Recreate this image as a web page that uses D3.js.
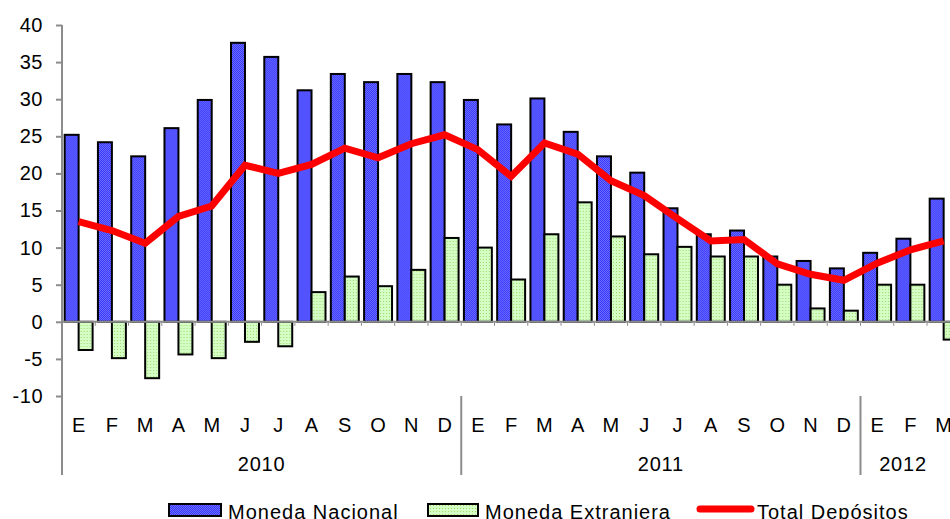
<!DOCTYPE html>
<html>
<head>
<meta charset="utf-8">
<script src="https://cdn.jsdelivr.net/npm/d3@7"></script>
<style>
  html, body { margin: 0; padding: 0; background: #fff; overflow: hidden; }
  text { font-family: "Liberation Sans", Arial, sans-serif; fill: #000; }
</style>
</head>
<body>
<svg class="chart" width="950" height="519"></svg>
<script>
// data
var years = ["2010", "2011", "2012"];
var months = ["E","F","M","A","M","J","J","A","S","O","N","D",
              "E","F","M","A","M","J","J","A","S","O","N","D",
              "E","F","M"];
var monedaNacional = [25.2, 24.2, 22.3, 26.1, 29.9, 37.6, 35.7, 31.2, 33.4, 32.3, 33.4, 32.3,
                      29.9, 26.6, 30.1, 25.6, 22.3, 20.1, 15.3, 11.8, 12.3, 8.8, 8.2, 7.2,
                      9.3, 11.2, 16.6];
var monedaExtranjera = [-3.8, -4.9, -7.6, -4.4, -4.9, -2.7, -3.3, 4.0, 6.1, 4.8, 7.0, 11.3,
                        10.0, 5.7, 11.8, 16.1, 11.5, 9.1, 10.1, 8.8, 8.8, 5.0, 1.8, 1.5,
                        5.0, 5.0, -2.4];
var totalDepositos = [13.5, 12.3, 10.6, 14.2, 15.6, 21.1, 20.0, 21.2, 23.4, 22.1, 24.0, 25.2,
                      23.2, 19.6, 24.1, 22.6, 19.0, 17.0, 13.9, 10.9, 11.1, 7.8, 6.4, 5.6,
                      7.9, 9.7, 10.9];
var yearLengths = [12, 12, 3];
var yTicks = [-10, -5, 0, 5, 10, 15, 20, 25, 30, 35, 40];

var svg = d3.select(".chart");
var plotLeft = 62, plotTop = 25, plotBottom = 396;
var step = 33.27;

var keys = months.map(function(m, i) { return i; });

var x = d3.scaleBand()
  .domain(keys)
  .range([plotLeft, plotLeft + step * keys.length])
  .paddingInner(0.16)
  .paddingOuter(0.08);

var x1 = d3.scaleBand()
  .domain(["mn", "me"])
  .range([0, x.bandwidth()]);

var y = d3.scaleLinear()
  .domain([-10, 40])
  .range([plotBottom, plotTop]);

// fill patterns
var defs = svg.append("defs");
var pb = defs.append("pattern").attr("id", "pBlue")
  .attr("width", 2).attr("height", 2).attr("patternUnits", "userSpaceOnUse");
pb.append("rect").attr("width", 2).attr("height", 2).attr("fill", "#3535ff");
pb.append("rect").attr("width", 1).attr("height", 1).attr("fill", "#7070ff");
pb.append("rect").attr("x", 1).attr("y", 1).attr("width", 1).attr("height", 1).attr("fill", "#7070ff");

var pg = defs.append("pattern").attr("id", "pGreen")
  .attr("width", 3).attr("height", 3).attr("patternUnits", "userSpaceOnUse");
pg.append("rect").attr("width", 3).attr("height", 3).attr("fill", "#d4ffc4");
pg.append("rect").attr("x", 1).attr("y", 1).attr("width", 1).attr("height", 1).attr("fill", "#a6d56e");

// y axis (plain hyphen for negatives, like the original)
var yAxis = svg.append("g")
  .attr("transform", "translate(" + plotLeft + ",0)")
  .call(d3.axisLeft(y).tickValues(yTicks).tickSize(6).tickPadding(13)
    .tickFormat(function(d) { return String(d); }));
yAxis.select(".domain").remove();
yAxis.selectAll("line").attr("stroke", "#8c8c8c").attr("stroke-width", 2);
yAxis.selectAll("text").style("font-size", "20px").attr("letter-spacing", "0.5")
  .style("font-family", "'Liberation Sans', Arial, sans-serif");

// bars
var g = svg.append("g");
var groups = g.selectAll(".grp")
  .data(keys)
  .enter().append("g")
  .attr("transform", function(d) { return "translate(" + x(d) + ",0)"; });

groups.append("rect")
  .attr("x", x1("mn"))
  .attr("y", function(d) { return y(Math.max(0, monedaNacional[d])); })
  .attr("width", x1.bandwidth())
  .attr("height", function(d) { return Math.abs(y(monedaNacional[d]) - y(0)); })
  .attr("fill", "url(#pBlue)")
  .attr("stroke", "#000")
  .attr("stroke-width", 2);

groups.append("rect")
  .attr("x", x1("me"))
  .attr("y", function(d) { return y(Math.max(0, monedaExtranjera[d])); })
  .attr("width", x1.bandwidth())
  .attr("height", function(d) { return Math.abs(y(monedaExtranjera[d]) - y(0)); })
  .attr("fill", "url(#pGreen)")
  .attr("stroke", "#000")
  .attr("stroke-width", 2);

// zero line with category ticks
var xEnd = plotLeft + step * keys.length;
svg.append("line")
  .attr("x1", plotLeft).attr("x2", xEnd)
  .attr("y1", y(0)).attr("y2", y(0))
  .attr("stroke", "#8c8c8c").attr("stroke-width", 2);
svg.selectAll(".ctick")
  .data(keys)
  .enter().append("line")
  .attr("x1", function(d) { return plotLeft + step * (d + 1); })
  .attr("x2", function(d) { return plotLeft + step * (d + 1); })
  .attr("y1", y(0)).attr("y2", y(0) + 4)
  .attr("stroke", "#8c8c8c").attr("stroke-width", 1);

// left axis line
svg.append("line")
  .attr("x1", plotLeft).attr("x2", plotLeft)
  .attr("y1", plotTop).attr("y2", 475)
  .attr("stroke", "#8c8c8c").attr("stroke-width", 2);

// total line
var line = d3.line()
  .x(function(d) { return x(d) + x.bandwidth() / 2; })
  .y(function(d) { return y(totalDepositos[d]); });

svg.append("path")
  .datum(keys)
  .attr("d", line)
  .attr("fill", "none")
  .attr("stroke", "#ff0000")
  .attr("stroke-width", 7)
  .attr("stroke-linejoin", "miter");

// month labels
svg.selectAll(".mlab")
  .data(keys)
  .enter().append("text")
  .attr("x", function(d) { return x(d) + x.bandwidth() / 2; })
  .attr("y", 432)
  .attr("text-anchor", "middle")
  .style("font-size", "20px")
  .text(function(d) { return months[d]; });

// year separators and labels
var start = 0;
yearLengths.forEach(function(n, i) {
  var x0 = plotLeft + step * start;
  var xe = plotLeft + step * (start + n);
  if (i > 0) {
    svg.append("line")
      .attr("x1", x0).attr("x2", x0)
      .attr("y1", plotBottom).attr("y2", 475)
      .attr("stroke", "#8c8c8c").attr("stroke-width", 2);
  }
  svg.append("text")
    .attr("x", i == 2 ? 903 : (x0 + xe) / 2)
    .attr("y", 471)
    .attr("text-anchor", "middle")
    .attr("letter-spacing", "0.8")
    .style("font-size", "20px")
    .text(years[i]);
  start += n;
});

// legend
var legend = svg.append("g");
legend.append("rect")
  .attr("x", 169).attr("y", 504).attr("width", 52).attr("height", 12)
  .attr("fill", "url(#pBlue)").attr("stroke", "#000").attr("stroke-width", 2);
legend.append("text").attr("x", 228).attr("y", 519).attr("letter-spacing", "1")
  .style("font-size", "20px").text("Moneda Nacional");
legend.append("rect")
  .attr("x", 428).attr("y", 504).attr("width", 50).attr("height", 12)
  .attr("fill", "url(#pGreen)").attr("stroke", "#000").attr("stroke-width", 2);
legend.append("text").attr("x", 485).attr("y", 519).attr("letter-spacing", "1")
  .style("font-size", "20px").text("Moneda Extranjera");
legend.append("line")
  .attr("x1", 700).attr("x2", 751).attr("y1", 509).attr("y2", 509)
  .attr("stroke", "#ff0000").attr("stroke-width", 7).attr("stroke-linecap", "round");
legend.append("text").attr("x", 757).attr("y", 519).attr("letter-spacing", "1")
  .style("font-size", "20px").text("Total Depósitos");
</script>
</body>
</html>
